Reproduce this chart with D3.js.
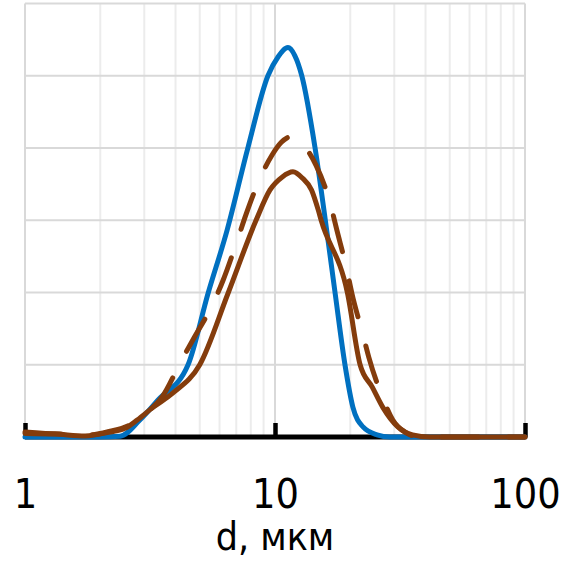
<!DOCTYPE html>
<html>
<head>
<meta charset="utf-8">
<script src="https://cdn.jsdelivr.net/npm/d3@7"></script>
<style>
  body { margin: 0; background: #fff; }
  svg { display: block; }
  .tick-label, .x-title { font-family: "DejaVu Sans Condensed", "DejaVu Sans", sans-serif; fill: #000; }
</style>
</head>
<body>
<svg class="chart" width="584" height="561"></svg>
<script>
// particle size (мкм) and distribution values
let blueD = [1, 2.0, 2.4, 2.88, 3.4, 4.49, 5.4, 6.43, 7.8, 9.37, 10.28, 11.27, 12.0, 12.8, 14.45, 16.1, 17.4, 19.05, 20.5, 22.5, 25.6, 28.8, 40, 100];
let blueV = [0, 0, 0.01, 0.235, 0.51, 1.0, 1.99, 2.86, 4.01, 5.0, 5.26, 5.39, 5.28, 5.0, 4.01, 2.86, 1.99, 1.0, 0.41, 0.14, 0.03, 0, 0, 0];

let solidD = [1, 1.32, 1.74, 2.19, 2.51, 2.81, 3.25, 3.91, 5.0, 6.49, 8.4, 9.55, 10.7, 11.8, 12.9, 14.0, 14.9, 15.3, 19.5, 21.9, 24.5, 27.0, 31.0, 35.5, 41.6, 100];
let solidV = [0.05, 0.04, 0.015, 0.07, 0.12, 0.235, 0.41, 0.61, 1.0, 1.99, 3.0, 3.42, 3.6, 3.67, 3.58, 3.42, 3.14, 3.0, 1.99, 1.0, 0.69, 0.41, 0.14, 0.03, 0, 0];

let dashD = [1, 1.38, 1.82, 2.19, 2.63, 3.02, 3.53, 4.24, 4.74, 5.71, 6.2, 7.11, 7.64, 8.79, 9.72, 10.6, 11.7, 13.0, 14.6, 16.7, 17.6, 19.4, 20.3, 22.5, 23.7, 27.0, 29.6, 33.0, 38.0, 100];
let dashV = [0.07, 0.04, 0.03, 0.08, 0.17, 0.32, 0.55, 1.07, 1.37, 1.88, 2.17, 2.75, 3.07, 3.61, 3.9, 4.08, 4.16, 4.04, 3.76, 3.21, 2.89, 2.31, 1.99, 1.41, 1.11, 0.54, 0.235, 0.07, 0, 0];

let xTicks = [1, 10, 100];
let xMinor = [2, 3, 4, 5, 6, 7, 8, 9, 20, 30, 40, 50, 60, 70, 80, 90];
let yGrid = [0, 1, 2, 3, 4, 5, 6];

let svg = d3.select(".chart");

let margin = { top: 3.5, left: 25, right: 59, bottom: 124 };
let width = 584, height = 561;

let x = d3.scaleLog()
  .domain([1, 100])
  .range([margin.left, width - margin.right]);

let y = d3.scaleLinear()
  .domain([0, 6])
  .range([height - margin.bottom, margin.top]);

// grid lines
let grid = svg.append("g").attr("id", "grid");

grid.selectAll("line.minor")
  .data(xMinor)
  .join("line")
    .attr("class", "minor")
    .attr("x1", d => x(d)).attr("x2", d => x(d))
    .attr("y1", y(6)).attr("y2", y(0))
    .attr("stroke", "#ececec")
    .attr("stroke-width", 2);

grid.selectAll("line.major")
  .data(xTicks)
  .join("line")
    .attr("class", "major")
    .attr("x1", d => x(d)).attr("x2", d => x(d))
    .attr("y1", y(6)).attr("y2", y(0))
    .attr("stroke", "#d9d9d9")
    .attr("stroke-width", 2);

grid.selectAll("line.hgrid")
  .data(yGrid)
  .join("line")
    .attr("class", "hgrid")
    .attr("x1", x(1)).attr("x2", x(100))
    .attr("y1", d => y(d)).attr("y2", d => y(d))
    .attr("stroke", "#d9d9d9")
    .attr("stroke-width", 2);

// x axis, ticks pointing up into the plot
let xAxis = d3.axisBottom(x)
  .tickValues(xTicks)
  .tickSize(-14)
  .tickFormat(d3.format("d"));

let xGroup = svg.append("g")
  .attr("id", "x-axis")
  .attr("transform", translate(0, y(0)))
  .call(xAxis);

xGroup.select(".domain")
  .attr("d", "M" + x(1) + ",0H" + x(100))
  .attr("stroke", "#000")
  .attr("stroke-width", 5);

xGroup.selectAll(".tick line")
  .attr("stroke", "#000")
  .attr("stroke-width", 4.5);

xGroup.selectAll(".tick text")
  .attr("class", "tick-label")
  .attr("y", 71)
  .attr("dy", 0)
  .style("font-size", "41px");

xGroup.attr("font-family", null).attr("font-size", null);

// curves
let line = d3.line()
  .x(d => x(d[0]))
  .y(d => y(d[1]))
  .curve(d3.curveMonotoneX);

let series = [
  { d: blueD, v: blueV, color: "#0070c0", dash: null },
  { d: solidD, v: solidV, color: "#843c0c", dash: null },
  { d: dashD, v: dashV, color: "#843c0c", dash: "37,30" }
];

svg.append("g").attr("id", "curves")
  .selectAll("path")
  .data(series)
  .join("path")
    .attr("d", s => line(d3.zip(s.d, s.v)))
    .attr("fill", "none")
    .attr("stroke", s => s.color)
    .attr("stroke-width", 5)
    .attr("stroke-linecap", "round")
    .attr("stroke-linejoin", "round")
    .attr("stroke-dasharray", s => s.dash);

// axis title
svg.append("text")
  .attr("class", "x-title")
  .attr("x", x(10))
  .attr("y", 550)
  .attr("text-anchor", "middle")
  .style("font-size", "39px")
  .text("d, мкм");

function translate(x, y) {
  return 'translate(' + x + ',' + y + ')';
}
</script>
</body>
</html>
